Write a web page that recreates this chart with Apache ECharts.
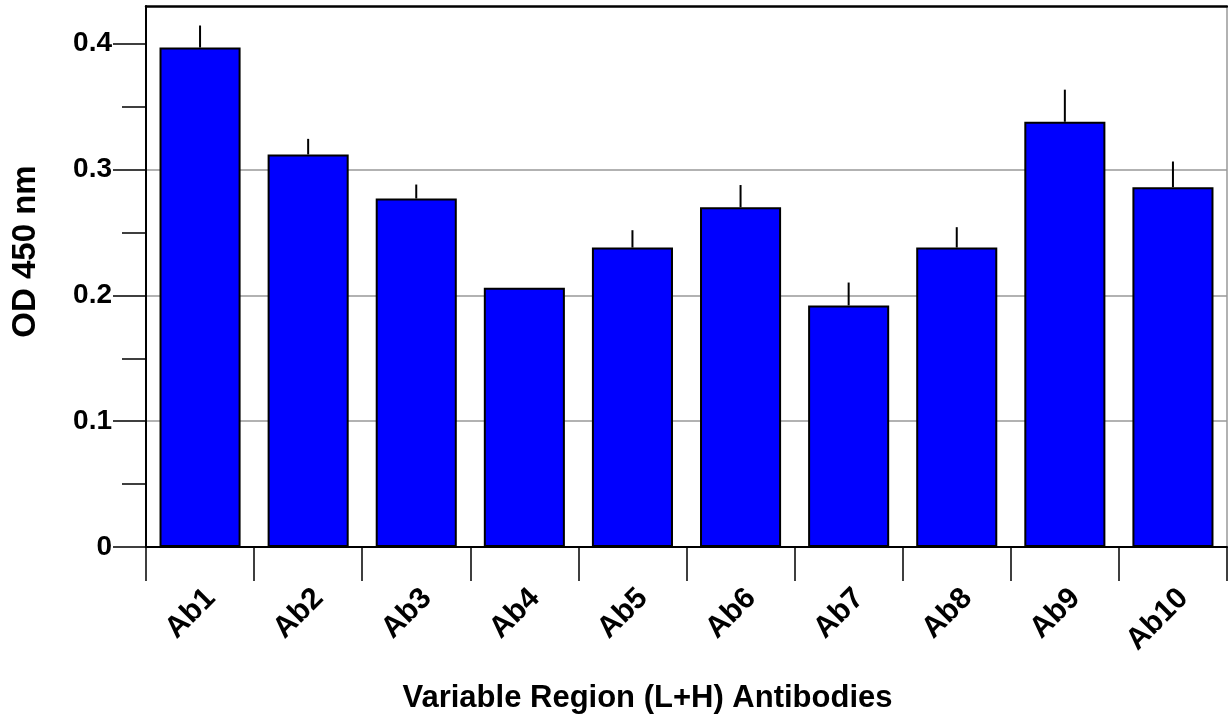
<!DOCTYPE html>
<html>
<head>
<meta charset="utf-8">
<script src="https://cdn.jsdelivr.net/npm/echarts@6/dist/echarts.min.js"></script>
<style>
html,body{margin:0;padding:0;background:#fff;}
#chart{width:1228px;height:721px;}
</style>
</head>
<body>
<div id="chart"></div>
<script>
const categories = ['Ab1','Ab2','Ab3','Ab4','Ab5','Ab6','Ab7','Ab8','Ab9','Ab10'];
const means = [0.397, 0.312, 0.277, 0.206, 0.238, 0.270, 0.192, 0.238, 0.338, 0.286];
const errors = [0.0175, 0.0124, 0.0111, 0.0, 0.0138, 0.0177, 0.0182, 0.0162, 0.0255, 0.0204];
const yTicks = [0, 0.1, 0.2, 0.3, 0.4];
const yMinorTicks = [0.05, 0.15, 0.25, 0.35];
const xTitle = 'Variable Region (L+H) Antibodies';
const yTitle = 'OD 450 nm';

const FONT = '"Liberation Sans", Arial, sans-serif';
const chart = echarts.init(document.getElementById('chart'), null, {renderer: 'canvas'});

const errData = categories.map((c, i) => [i, means[i], means[i] + errors[i]]);

chart.setOption({
  animation: false,
  backgroundColor: '#ffffff',
  grid: {left: 146, right: 1, top: 6, bottom: 174, containLabel: false},
  xAxis: [{
    type: 'category',
    data: categories,
    boundaryGap: true,
    axisLine: {lineStyle: {color: '#000', width: 2}},
    axisTick: {show: true, length: 34, inside: false, lineStyle: {color: '#000', width: 1.5}},
    axisLabel: {rotate: 45, margin: 36, verticalAlign: 'top', fontFamily: FONT, fontWeight: 'bold', fontSize: 30, color: '#000'},
    splitLine: {show: false},
    name: xTitle,
    nameLocation: 'middle',
    nameGap: 136,
    nameTextStyle: {fontFamily: FONT, fontWeight: 'bold', fontSize: 31, color: '#000', padding: [0, 78, 0, 0]}
  }, {
    type: 'category',
    data: categories,
    position: 'top',
    axisLine: {show: true, onZero: false, lineStyle: {color: '#000', width: 2.5}},
    axisTick: {show: false},
    axisLabel: {show: false},
    splitLine: {show: false}
  }],
  yAxis: [{
    type: 'value',
    min: 0,
    max: 0.43,
    interval: 0.1,
    axisLine: {show: true, lineStyle: {color: '#000', width: 2}},
    axisTick: {show: true, length: 33, customValues: yTicks, lineStyle: {color: '#000', width: 1.5}},
    minorTick: {show: false},
    axisLabel: {
      margin: 34, fontFamily: FONT, fontWeight: 'bold', fontSize: 28, color: '#000',
      customValues: yTicks,
      formatter: v => String(+v.toFixed(1))
    },
    splitLine: {show: true, lineStyle: {color: '#999', width: 1.5}, showMaxLine: false},
    name: yTitle,
    nameLocation: 'middle',
    nameGap: 104,
    nameTextStyle: {fontFamily: FONT, fontWeight: 'bold', fontSize: 33, color: '#000', padding: [0, 0, 0, 50]}
  }, {
    type: 'value',
    min: 0,
    max: 0.43,
    position: 'left',
    axisLine: {show: false},
    axisTick: {show: true, length: 24, customValues: yMinorTicks, lineStyle: {color: '#000', width: 1.5}},
    axisLabel: {show: false},
    splitLine: {show: false}
  }, {
    type: 'value',
    min: 0,
    max: 0.43,
    position: 'right',
    axisLine: {show: true, onZero: false, lineStyle: {color: '#999', width: 1.5}},
    axisTick: {show: false},
    axisLabel: {show: false},
    splitLine: {show: false}
  }],
  series: [{
    type: 'custom',
    xAxisIndex: 0,
    yAxisIndex: 0,
    data: errData,
    z: 1,
    renderItem: function (params, api) {
      const x = api.value(0);
      const p0 = api.coord([x, api.value(1)]);
      const p1 = api.coord([x, api.value(2)]);
      return {
        type: 'line',
        shape: {x1: p0[0], y1: p0[1], x2: p1[0], y2: p1[1]},
        style: {stroke: '#000', lineWidth: 2}
      };
    }
  }, {
    type: 'bar',
    xAxisIndex: 0,
    yAxisIndex: 0,
    data: means,
    barWidth: '75%',
    z: 2,
    itemStyle: {color: '#0000ff', borderColor: '#000', borderWidth: 2}
  }]
});
</script>
</body>
</html>
